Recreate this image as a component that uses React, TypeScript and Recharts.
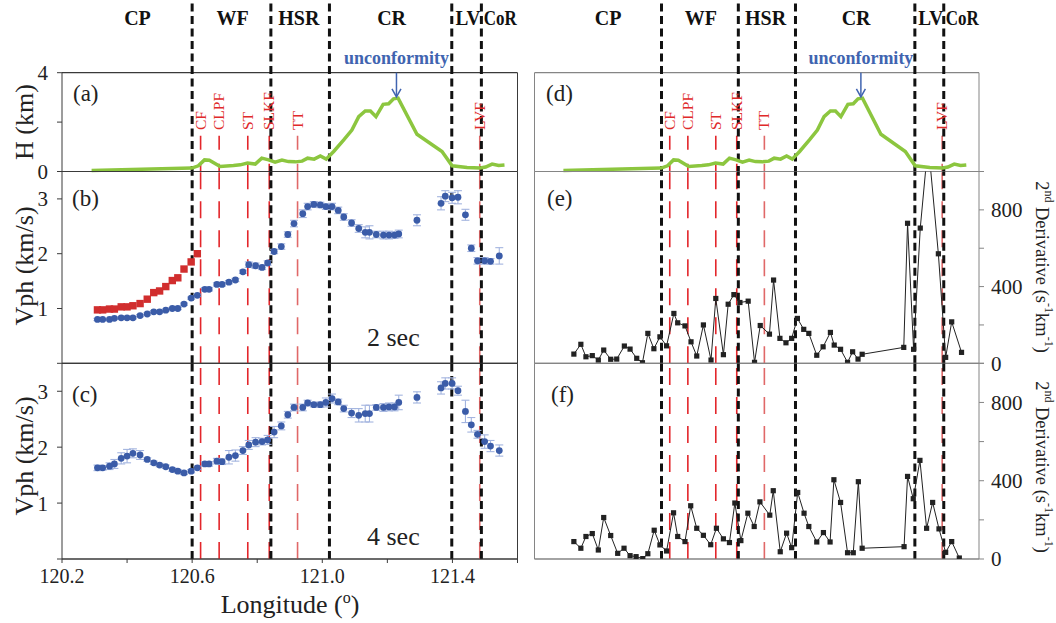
import React from 'react';
import { ComposedChart, Line, Scatter, XAxis, YAxis, ReferenceLine, ReferenceDot, ErrorBar } from 'recharts';

const W = 1056;
const H = 623;
const FONT = "'Liberation Serif', 'DejaVu Serif', 'Times New Roman', serif";
const LEFT_X: [number, number] = [62, 517.5];
const RIGHT_X: [number, number] = [534.5, 979];
const ROW_A: [number, number] = [72.7, 171.5];
const ROW_B: [number, number] = [171.5, 363.3];
const ROW_C: [number, number] = [363.3, 559];
const LEFT_AXIS = '#3a3a3a';
const RIGHT_AXIS = '#858585';
const AX = 1; // reserved axis width/height

const LON_DOMAIN: [number, number] = [120.2, 121.6];
const lonTicks = [120.2, 120.4, 120.6, 120.8, 121.0, 121.2, 121.4, 121.6];
const lonLabelTicks = [120.2, 120.6, 121.0, 121.4];

// geological regions (header labels) and their boundaries
const regionNames = ['CP', 'WF', 'HSR', 'CR', 'LV', 'CoR'];
const regionLon = [120.432, 120.724, 120.928, 121.213, 121.448, 121.547];
const boundaryLon = [120.6, 120.842, 121.022, 121.398, 121.489];

// faults
const faultNames = ['CF', 'CLPF', 'ST', 'SLKF', 'TT', 'LVF'];
const faultLon = [120.626, 120.683, 120.771, 120.837, 120.924, 121.484];
const faultColor = ['#e3262b', '#e3262b', '#e3262b', '#e3262b', '#e06868', '#e06868'];

const unconformityLon = 121.228;

// (a)/(d) basin depth H (km)
const hLon = [120.291, 120.599, 120.619, 120.638, 120.653, 120.686, 120.727, 120.748, 120.770, 120.794,
  120.814, 120.835, 120.855, 120.876, 120.896, 120.917, 120.938, 120.955, 120.975, 120.994,
  121.012, 121.035, 121.066, 121.091, 121.112, 121.132, 121.148, 121.165, 121.187, 121.204,
  121.219, 121.233, 121.291, 121.368, 121.399, 121.445, 121.486, 121.502, 121.522, 121.542, 121.560];
const hVal = [0.04, 0.14, 0.23, 0.47, 0.46, 0.20, 0.24, 0.27, 0.34, 0.30,
  0.54, 0.47, 0.38, 0.46, 0.40, 0.39, 0.42, 0.54, 0.50, 0.63,
  0.50, 0.81, 1.28, 1.68, 2.22, 2.45, 2.45, 2.22, 2.72, 2.74,
  2.94, 2.97, 1.51, 0.81, 0.23, 0.16, 0.14, 0.18, 0.30, 0.24, 0.26];

// stations
const stationLon = [120.309, 120.325, 120.346, 120.361, 120.382, 120.400, 120.418, 120.440, 120.462, 120.482,
  120.500, 120.519, 120.539, 120.556, 120.575, 120.597, 120.616, 120.639, 120.652, 120.676,
  120.692, 120.713, 120.733, 120.756, 120.774, 120.795, 120.815, 120.832, 120.852, 120.874,
  120.894, 120.913, 120.940, 120.955, 120.974, 120.994, 121.011, 121.030, 121.049, 121.066,
  121.090, 121.112, 121.132, 121.145, 121.166, 121.188, 121.205, 121.222, 121.235, 121.291,
  121.365, 121.378, 121.399, 121.417, 121.440, 121.458, 121.477, 121.499, 121.517, 121.544];

// (b) 2 sec phase velocity
const vph2 = [0.80, 0.80, 0.80, 0.82, 0.83, 0.83, 0.83, 0.87, 0.90, 0.94,
  0.94, 0.97, 1.00, 1.00, 1.08, 1.19, 1.24, 1.35, 1.35, 1.44,
  1.44, 1.48, 1.52, 1.67, 1.80, 1.78, 1.75, 1.83, 2.04, 2.13,
  2.35, 2.55, 2.73, 2.86, 2.90, 2.89, 2.86, 2.86, 2.79, 2.67,
  2.56, 2.46, 2.39, 2.39, 2.35, 2.34, 2.34, 2.34, 2.36, 2.61,
  2.92, 3.05, 3.02, 3.03, 2.71, 2.10, 1.87, 1.87, 1.86, 1.96];
const vph2Err = [0.02, 0.02, 0.02, 0.02, 0.02, 0.02, 0.02, 0.02, 0.02, 0.02,
  0.02, 0.02, 0.02, 0.02, 0.02, 0.02, 0.02, 0.03, 0.03, 0.03,
  0.03, 0.03, 0.03, 0.03, 0.05, 0.05, 0.04, 0.04, 0.04, 0.05,
  0.05, 0.06, 0.07, 0.06, 0.05, 0.05, 0.05, 0.06, 0.06, 0.06,
  0.06, 0.07, 0.10, 0.12, 0.06, 0.07, 0.07, 0.06, 0.07, 0.10,
  0.12, 0.10, 0.10, 0.12, 0.10, 0.06, 0.06, 0.06, 0.05, 0.15];
const vph2Red = [0.975, 0.975, 0.99, 0.99, 1.03, 1.03, 1.05, 1.09, 1.17, 1.29,
  1.32, 1.40, 1.51, 1.56, 1.72, 1.85, 2.0];

// (c) 4 sec phase velocity
const vph4 = [1.63, 1.63, 1.66, 1.70, 1.80, 1.84, 1.89, 1.86, 1.78, 1.72,
  1.68, 1.65, 1.60, 1.57, 1.54, 1.57, 1.63, 1.70, 1.70, 1.75,
  1.74, 1.82, 1.85, 1.94, 2.04, 2.09, 2.10, 2.13, 2.27, 2.38,
  2.58, 2.71, 2.71, 2.79, 2.76, 2.76, 2.80, 2.87, 2.81, 2.69,
  2.61, 2.57, 2.60, 2.60, 2.71, 2.71, 2.72, 2.72, 2.80, 2.89,
  3.06, 3.14, 3.14, 3.01, 2.64, 2.40, 2.23, 2.10, 2.02, 1.94];
const vph4Err = [0.05, 0.04, 0.06, 0.08, 0.10, 0.12, 0.08, 0.08, 0.03, 0.03,
  0.03, 0.03, 0.03, 0.03, 0.03, 0.03, 0.03, 0.04, 0.04, 0.05,
  0.05, 0.12, 0.10, 0.07, 0.08, 0.08, 0.06, 0.08, 0.10, 0.07,
  0.06, 0.06, 0.06, 0.05, 0.04, 0.05, 0.08, 0.08, 0.05, 0.06,
  0.08, 0.12, 0.15, 0.15, 0.05, 0.07, 0.07, 0.07, 0.13, 0.10,
  0.11, 0.10, 0.10, 0.08, 0.20, 0.13, 0.07, 0.12, 0.10, 0.10];

// (e) 2nd derivative, 2 sec
const eLon = [120.324, 120.346, 120.362, 120.382, 120.401, 120.418, 120.440, 120.459, 120.483, 120.501,
  120.522, 120.540, 120.557, 120.576, 120.595, 120.616, 120.639, 120.651, 120.674, 120.693,
  120.711, 120.732, 120.756, 120.771, 120.795, 120.810, 120.828, 120.847, 120.873, 120.893,
  120.911, 120.940, 120.953, 120.973, 120.992, 121.010, 121.028, 121.048, 121.064, 121.089,
  121.109, 121.132, 121.144, 121.164, 121.186, 121.202, 121.219, 121.232, 121.363, 121.375,
  121.394, 121.415, 121.440, 121.472, 121.495, 121.514, 121.545];
const eVal = [48, 99, 34, 40, 17, 69, 21, 22, 90, 74,
  26, 3, 156, 76, 138, 91, 260, 211, 195, 112,
  38, 200, 17, 338, 45, 308, 358, 317, 324, 5,
  197, 152, 434, 130, 107, 130, 234, 177, 156, 42,
  86, 161, 95, 73, 5, 60, 22, 47, 83, 730,
  73, 705, 1150, 571, 31, 216, 57];

// (f) 2nd derivative, 4 sec
const fLon = [120.324, 120.346, 120.362, 120.382, 120.401, 120.418, 120.440, 120.462, 120.482, 120.501,
  120.520, 120.541, 120.557, 120.577, 120.595, 120.616, 120.638, 120.651, 120.674, 120.692,
  120.711, 120.732, 120.755, 120.773, 120.795, 120.814, 120.831, 120.850, 120.872, 120.892,
  120.910, 120.941, 120.952, 120.974, 120.994, 121.010, 121.029, 121.049, 121.064, 121.089,
  121.110, 121.131, 121.143, 121.164, 121.186, 121.204, 121.220, 121.232, 121.364, 121.375,
  121.393, 121.414, 121.435, 121.454, 121.474, 121.495, 121.514, 121.538];
const fVal = [89, 55, 115, 130, 46, 212, 120, 29, 55, 17,
  12, 2, 27, 147, 72, 41, 236, 115, 89, 272,
  157, 121, 73, 157, 103, 84, 286, 94, 234, 166,
  292, 224, 349, 37, 132, 58, 340, 234, 166, 87,
  135, 87, 405, 289, 32, 32, 395, 55, 63, 422,
  308, 504, 157, 289, 154, 34, 89, 5];

// built tables
const hData = hLon.map((lon, i) => ({ lon, v: hVal[i] }));
const b2Data = stationLon.map((lon, i) => ({ lon, v: vph2[i], err: vph2Err[i] }));
const r2Data = vph2Red.map((v, i) => ({ lon: stationLon[i], v }));
const b4Data = stationLon.map((lon, i) => ({ lon, v: vph4[i], err: vph4Err[i] }));
const eData = eLon.map((lon, i) => ({ lon, v: eVal[i] }));
const fData = fLon.map((lon, i) => ({ lon, v: fVal[i] }));

const mkMargin = (xr: [number, number], yr: [number, number], xAxisShown: boolean) => ({
  left: xr[0] - AX, right: W - xr[1] - AX, top: yr[0], bottom: H - yr[1] - (xAxisShown ? AX : 0),
});
const layer: React.CSSProperties = { position: 'absolute', left: 0, top: 0, width: W, height: H };
const fontStyle: React.CSSProperties = { fontFamily: FONT };

// in the depth panel (domain 0..4) the header area lies above the plot: these y values sit there
const HEAD_TOP = 6.8;
const REGION_Y = 5.92;
const UNCONF_Y = 4.35;

const boundaryLines = (yId: string) => boundaryLon.map((b) => (
  <ReferenceLine key={`bd-${b}`} yAxisId={yId} x={b} stroke="#111" strokeWidth={3}
    strokeDasharray="8 4.5" />
));
const boundaryLinesTall = (yId: string) => boundaryLon.map((b) => (
  <ReferenceLine key={`bt-${b}`} yAxisId={yId} segment={[{ x: b, y: HEAD_TOP }, { x: b, y: 0 }]}
    stroke="#111" strokeWidth={3} strokeDasharray="8 4.5" ifOverflow="visible" />
));

const faultLinesFull = (yId: string) => faultLon.map((lon, i) => (
  <ReferenceLine key={`fl-${i}`} yAxisId={yId} x={lon} stroke={faultColor[i]} strokeWidth={1.6}
    strokeDasharray="17 12" />
));
const faultLinesTop = (yId: string) => faultLon.map((lon, i) => (
  <ReferenceLine key={`ft-${i}`} yAxisId={yId} segment={[{ x: lon, y: 1.45 }, { x: lon, y: 0 }]}
    stroke={faultColor[i]} strokeWidth={1.6} strokeDasharray="14 14" />
));
const faultLabels = (yId: string) => faultLon.map((lon, i) => (
  <ReferenceDot key={`fn-${i}`} yAxisId={yId} x={lon} y={1.68} r={1} ifOverflow="visible"
    shape={(p: any) => (
      <text x={p.cx + 5} y={p.cy} transform={`rotate(-90 ${p.cx + 5} ${p.cy})`} fill="#e02a2a"
        style={fontStyle} fontSize={15.5}>{faultNames[i]}</text>
    )} />
));
const regionLabels = (yId: string) => regionNames.map((n, i) => (
  <ReferenceDot key={`rg-${i}`} yAxisId={yId} x={regionLon[i]} y={REGION_Y} r={1} ifOverflow="visible"
    shape={(p: any) => (
      <text x={p.cx} y={p.cy} textAnchor="middle" fill="#111" style={fontStyle} fontSize={20}
        fontWeight="bold" {...(n === 'LV' ? { textLength: 25, lengthAdjust: 'spacingAndGlyphs' } : {})}
        {...(n === 'CoR' ? { textLength: 33, lengthAdjust: 'spacingAndGlyphs' } : {})}>{n}</text>
    )} />
));
const unconformityMarks = (yId: string) => [
  <ReferenceDot key="unc-t" yAxisId={yId} x={unconformityLon} y={UNCONF_Y} r={1} ifOverflow="visible"
    shape={(p: any) => (
      <text x={p.cx} y={p.cy} textAnchor="middle" fill="#4064b0" style={fontStyle} fontSize={18}
        fontWeight="bold">unconformity</text>
    )} />,
  <ReferenceLine key="arr-l" yAxisId={yId} segment={[{ x: unconformityLon, y: 4 }, { x: unconformityLon, y: 3.05 }]}
    stroke="#4064b0" strokeWidth={1.5} />,
  <ReferenceDot key="arr-h" yAxisId={yId} x={unconformityLon} y={3.02} r={1} ifOverflow="visible"
    shape={(p: any) => (
      <path d={`M ${p.cx - 4.5} ${p.cy - 8} L ${p.cx} ${p.cy} L ${p.cx + 4.5} ${p.cy - 8}`}
        fill="none" stroke="#4064b0" strokeWidth={1.5} />
    )} />,
];

const tickStyle = { fontSize: 21, fill: '#222', fontFamily: FONT, style: fontStyle };
const blueDot = (p: any) => <circle cx={p.cx} cy={p.cy} r={3.4} fill="#3b5ca8" />;
const redSquare = (p: any) => <rect x={p.cx - 3.7} y={p.cy - 3.7} width={7.4} height={7.4} fill="#d12e2e" />;
const blackSquare = (p: any) => (
  <rect key={`sq-${p.index}`} x={p.cx - 2.6} y={p.cy - 2.6} width={5.2} height={5.2} fill="#222" />
);

const xHidden = <XAxis type="number" dataKey="lon" domain={LON_DOMAIN} hide allowDataOverflow />;

function DepthChart({ xr, axis, labels }: { xr: [number, number]; axis: string; labels: boolean }) {
  return (
    <div style={layer}>
      <ComposedChart width={W} height={H} margin={mkMargin(xr, ROW_A, false)} style={fontStyle}>
        {xHidden}
        <YAxis yAxisId="l" type="number" dataKey="v" domain={[0, 4]} ticks={[0, 2, 4]} interval={0} width={AX}
          tickSize={5} tickMargin={9} stroke={axis} tick={labels ? tickStyle : false}
          tickFormatter={(v: number) => (v === 2 ? '' : String(v))} />
        <YAxis yAxisId="r" orientation="right" type="number" domain={[0, 4]} ticks={[0, 2, 4]} interval={0}
          width={AX} tickSize={5} stroke={axis} tick={false} />
        <ReferenceLine yAxisId="l" y={4} stroke={axis} strokeWidth={1.2} />
        <ReferenceLine yAxisId="l" y={0} stroke={axis} strokeWidth={1.2} />
        {faultLinesTop('l')}
        {faultLabels('l')}
        {boundaryLinesTall('l')}
        {regionLabels('l')}
        <Line yAxisId="l" data={hData} dataKey="v" type="linear" stroke="#8cc63f" strokeWidth={3.5}
          dot={false} activeDot={false} isAnimationActive={false} />
        {unconformityMarks('l')}
      </ComposedChart>
    </div>
  );
}

function VphChart({ yr, blue, red, bottom }: { yr: [number, number]; blue: any[]; red?: any[]; bottom: boolean }) {
  return (
    <div style={layer}>
      <ComposedChart width={W} height={H} margin={mkMargin(LEFT_X, yr, bottom)} style={fontStyle}>
        {bottom ? (
          <XAxis type="number" dataKey="lon" domain={LON_DOMAIN} ticks={lonTicks} interval={0} height={AX}
            allowDataOverflow tickSize={4} tickMargin={6} stroke={LEFT_AXIS}
            tick={{ fontSize: 20, fill: '#222', fontFamily: FONT, style: fontStyle }}
            tickFormatter={(v: number) => (lonLabelTicks.some((t) => Math.abs(t - v) < 1e-6) ? v.toFixed(1) : '')} />
        ) : xHidden}
        <YAxis yAxisId="l" type="number" dataKey="v" domain={[0, 3.5]} ticks={[0, 1, 2, 3]} interval={0}
          width={AX} tickSize={5} tickMargin={9} stroke={LEFT_AXIS} tick={tickStyle}
          tickFormatter={(v: number) => (v === 0 ? '' : String(v))} />
        <YAxis yAxisId="r" orientation="right" type="number" domain={[0, 3.5]} ticks={[1, 2, 3]} interval={0}
          width={AX} tickSize={5} stroke={LEFT_AXIS} tick={false} />
        <ReferenceLine yAxisId="l" y={3.5} stroke={LEFT_AXIS} strokeWidth={1.2} />
        <ReferenceLine yAxisId="l" y={0} stroke={LEFT_AXIS} strokeWidth={1.2} />
        {faultLinesFull('l')}
        {boundaryLines('l')}
        {red ? (
          <Scatter yAxisId="l" data={red} dataKey="v" shape={redSquare} isAnimationActive={false} />
        ) : null}
        <Scatter yAxisId="l" data={blue} dataKey="v" shape={blueDot} isAnimationActive={false}>
          <ErrorBar dataKey="err" direction="y" width={4} stroke="#a3b4df" strokeWidth={1.1} />
        </Scatter>
      </ComposedChart>
    </div>
  );
}

function DerivChart({ yr, data, bottom }: { yr: [number, number]; data: any[]; bottom: boolean }) {
  return (
    <div style={layer}>
      <ComposedChart width={W} height={H} margin={mkMargin(RIGHT_X, yr, bottom)} style={fontStyle}>
        {bottom ? (
          <XAxis type="number" dataKey="lon" domain={LON_DOMAIN} ticks={lonTicks} interval={0} height={AX}
            allowDataOverflow tickSize={5} stroke={RIGHT_AXIS} tick={false} />
        ) : xHidden}
        <YAxis yAxisId="l" type="number" dataKey="v" domain={[0, 1000]} allowDataOverflow
          ticks={[0, 200, 400, 600, 800, 1000]} interval={0} width={AX} tickSize={5} stroke={RIGHT_AXIS} tick={false} />
        <YAxis yAxisId="r" orientation="right" type="number" domain={[0, 1000]} allowDataOverflow
          ticks={[0, 200, 400, 600, 800, 1000]} interval={0} width={AX} tickSize={5} tickMargin={7}
          stroke={RIGHT_AXIS} tick={tickStyle}
          tickFormatter={(v: number) => (v % 400 === 0 && v < 1000 ? String(v) : '')} />
        <ReferenceLine yAxisId="l" y={1000} stroke={RIGHT_AXIS} strokeWidth={1.2} />
        <ReferenceLine yAxisId="l" y={0} stroke={RIGHT_AXIS} strokeWidth={1.2} />
        {faultLinesFull('l')}
        {boundaryLines('l')}
        <Line yAxisId="l" data={data} dataKey="v" type="linear" stroke="#222" strokeWidth={1}
          dot={blackSquare} activeDot={false} isAnimationActive={false} />
      </ComposedChart>
    </div>
  );
}

function DerivTitle({ cx, cy }: { cx: number; cy: number }) {
  return (
    <text transform={`translate(${cx} ${cy}) rotate(90)`} textAnchor="middle" dominantBaseline="central"
      style={fontStyle} fontSize={18.5} fill="#222">
      2<tspan fontSize={12} dy={-7}>nd</tspan>
      <tspan dy={7}> Derivative (s</tspan>
      <tspan fontSize={12} dy={-7}>-1</tspan>
      <tspan dy={7}>km</tspan>
      <tspan fontSize={12} dy={-7}>-1</tspan>
      <tspan dy={7}>)</tspan>
    </text>
  );
}

export default function App() {
  const t = { style: fontStyle, fill: '#222' };
  return (
    <div style={{ position: 'absolute', left: 0, top: 0, width: W, height: H, background: '#fff', fontFamily: FONT }}>
      <DepthChart xr={LEFT_X} axis={LEFT_AXIS} labels />
      <DepthChart xr={RIGHT_X} axis={RIGHT_AXIS} labels={false} />
      <VphChart yr={ROW_B} blue={b2Data} red={r2Data} bottom={false} />
      <VphChart yr={ROW_C} blue={b4Data} bottom />
      <DerivChart yr={ROW_B} data={eData} bottom={false} />
      <DerivChart yr={ROW_C} data={fData} bottom />
      <svg style={{ ...layer, pointerEvents: 'none', fontFamily: FONT }} width={W} height={H}>
        <text {...t} fontSize={26} textAnchor="middle" dominantBaseline="central" transform="translate(24 122) rotate(-90)">H (km)</text>
        <text {...t} fontSize={26} textAnchor="middle" dominantBaseline="central" transform="translate(24 266) rotate(-90)">Vph (km/s)</text>
        <text {...t} fontSize={26} textAnchor="middle" dominantBaseline="central" transform="translate(24 456) rotate(-90)">Vph (km/s)</text>
        <DerivTitle cx={1042} cy={267} />
        <DerivTitle cx={1042} cy={467} />
        <text {...t} fontSize={23} x={73} y={101}>(a)</text>
        <text {...t} fontSize={23} x={72} y={206}>(b)</text>
        <text {...t} fontSize={23} x={72} y={402}>(c)</text>
        <text {...t} fontSize={23} x={546} y={101}>(d)</text>
        <text {...t} fontSize={23} x={547} y={206}>(e)</text>
        <text {...t} fontSize={23} x={551} y={402}>(f)</text>
        <text {...t} fontSize={26} x={367} y={346}>2 sec</text>
        <text {...t} fontSize={26} x={367} y={545}>4 sec</text>
        <text {...t} fontSize={26} x={290} y={613} textAnchor="middle">
          Longitude (<tspan fontSize={16} dy={-10}>o</tspan><tspan dy={10}>)</tspan>
        </text>
      </svg>
    </div>
  );
}
